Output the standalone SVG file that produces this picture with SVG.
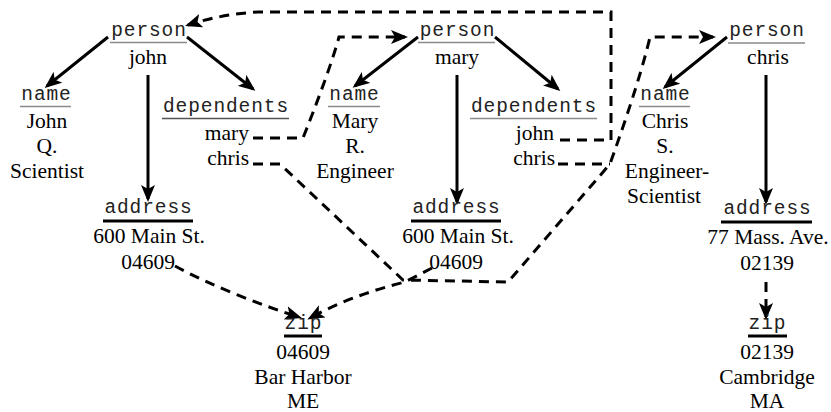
<svg xmlns="http://www.w3.org/2000/svg" width="831" height="412" viewBox="0 0 831 412">
  <defs>
    <marker id="arrow" markerUnits="userSpaceOnUse" markerWidth="18" markerHeight="14" refX="14" refY="7" orient="auto">
      <path d="M0,0 L17,7 L0,14 L4,7 z" fill="#000"/>
    </marker>
    <style>
      .lbl { font-family: "Liberation Mono", "DejaVu Sans Mono", monospace; font-size: 19.5px; letter-spacing: 0.9px; fill: #222; text-anchor: middle; }
      .val { font-family: "Liberation Serif", "Times New Roman", serif; font-size: 21.5px; fill: #000; text-anchor: middle; }
      .end { text-anchor: end; }
      .ul-light { stroke: #8a8a8a; stroke-width: 1.6; }
      .ul-dark { stroke: #555; stroke-width: 1.6; }
      .ul-bold { stroke: #000; stroke-width: 3; }
      .edge { fill: none; stroke: #000; stroke-width: 3; marker-end: url(#arrow); }
      .ref { fill: none; stroke: #000; stroke-width: 3; stroke-dasharray: 10 7; }
      .ref.arr { marker-end: url(#arrow); }
    </style>
  </defs>

  <rect width="831" height="412" fill="#fff"/>

  <!-- connectors: solid = containment, dashed = references -->
  <g id="connectors">
    <path class="edge" d="M108,37 L47,86"/>
    <path class="edge" d="M187,37 L253,89"/>
    <path class="edge" d="M148,75 L148,199"/>
    <path class="edge" d="M418,37 L355,86"/>
    <path class="edge" d="M495,37 L558,89"/>
    <path class="edge" d="M457,75 L457,202"/>
    <path class="edge" d="M727,37 L665,87"/>
    <path class="edge" d="M766,75 L766,202"/>

    <!-- john.dependents.mary -> person mary -->
    <path class="ref arr" d="M253,138 L303,138 Q330,70 339,37 L405,37"/>
    <!-- john.dependents.chris -> person chris -->
    <path class="ref arr" d="M253,164 L280,164 L403,280 L508,282 L610,164 Q640,80 650,37 L713,37"/>
    <!-- mary.dependents.chris joins the same route -->
    <path class="ref" d="M558,164 L610,164"/>
    <!-- mary.dependents.john -> person john -->
    <path class="ref arr" d="M560,140 L611,140 L611,12 L258,12 Q222,14 188,25"/>
    <!-- zip references -->
    <path class="ref arr" d="M175,266 C210,285 260,305 299,317"/>
    <path class="ref arr" d="M432,268 L405,282 Q352,295 310,318"/>
    <path class="ref arr" d="M766,282 L766,317"/>
  </g>

  <g id="person_john">
    <text class="lbl" x="149" y="36">person</text>
    <line class="ul-light" x1="110" y1="42.5" x2="187" y2="42.5"/>
    <text class="val" x="148" y="64">john</text>
  </g>
  <g id="name_john">
    <text class="lbl" x="46.5" y="100">name</text>
    <line class="ul-light" x1="20" y1="106.5" x2="71" y2="106.5"/>
    <text class="val" x="47" y="128">John</text>
    <text class="val" x="47" y="153">Q.</text>
    <text class="val" x="47" y="178">Scientist</text>
  </g>
  <g id="dependents_john">
    <text class="lbl" x="226" y="112">dependents</text>
    <line class="ul-dark" x1="162" y1="118.5" x2="289" y2="118.5"/>
    <text class="val end" x="249" y="140">mary</text>
    <text class="val end" x="249" y="165">chris</text>
  </g>
  <g id="address_john">
    <text class="lbl" x="148.5" y="213">address</text>
    <line class="ul-bold" x1="103" y1="221" x2="193" y2="221"/>
    <text class="val" x="149" y="243">600 Main St.</text>
    <text class="val" x="148" y="269">04609</text>
  </g>

  <g id="person_mary">
    <text class="lbl" x="457.5" y="36">person</text>
    <line class="ul-light" x1="418" y1="42.5" x2="495" y2="42.5"/>
    <text class="val" x="457" y="64">mary</text>
  </g>
  <g id="name_mary">
    <text class="lbl" x="354.5" y="100">name</text>
    <line class="ul-light" x1="328" y1="106.5" x2="380" y2="106.5"/>
    <text class="val" x="355" y="128">Mary</text>
    <text class="val" x="355" y="153">R.</text>
    <text class="val" x="355" y="178">Engineer</text>
  </g>
  <g id="dependents_mary">
    <text class="lbl" x="534" y="112">dependents</text>
    <line class="ul-light" x1="470" y1="118.5" x2="597" y2="118.5"/>
    <text class="val end" x="554" y="140">john</text>
    <text class="val end" x="555" y="165">chris</text>
  </g>
  <g id="address_mary">
    <text class="lbl" x="456.5" y="213">address</text>
    <line class="ul-bold" x1="411" y1="221" x2="501" y2="221"/>
    <text class="val" x="458" y="243">600 Main St.</text>
    <text class="val" x="456" y="269">04609</text>
  </g>

  <g id="zip_04609">
    <text class="lbl" x="303.5" y="329">zip</text>
    <line class="ul-bold" x1="284" y1="336" x2="322" y2="336"/>
    <text class="val" x="303" y="359">04609</text>
    <text class="val" x="303" y="384">Bar Harbor</text>
    <text class="val" x="303" y="408">ME</text>
  </g>

  <g id="person_chris">
    <text class="lbl" x="767" y="36">person</text>
    <line class="ul-light" x1="728" y1="43" x2="805" y2="43"/>
    <text class="val" x="768" y="64">chris</text>
  </g>
  <g id="name_chris">
    <text class="lbl" x="665.5" y="100">name</text>
    <line class="ul-light" x1="639" y1="106.5" x2="690" y2="106.5"/>
    <text class="val" x="665" y="128">Chris</text>
    <text class="val" x="665" y="153">S.</text>
    <text class="val" x="667" y="178">Engineer-</text>
    <text class="val" x="664" y="203">Scientist</text>
  </g>
  <g id="address_chris">
    <text class="lbl" x="767.5" y="214">address</text>
    <line class="ul-bold" x1="721" y1="222" x2="812" y2="222"/>
    <text class="val" x="768" y="244">77 Mass. Ave.</text>
    <text class="val" x="767" y="270">02139</text>
  </g>
  <g id="zip_02139">
    <text class="lbl" x="767.5" y="329">zip</text>
    <line class="ul-bold" x1="748" y1="336" x2="787" y2="336"/>
    <text class="val" x="767" y="359">02139</text>
    <text class="val" x="767" y="384">Cambridge</text>
    <text class="val" x="767" y="408">MA</text>
  </g>
</svg>
